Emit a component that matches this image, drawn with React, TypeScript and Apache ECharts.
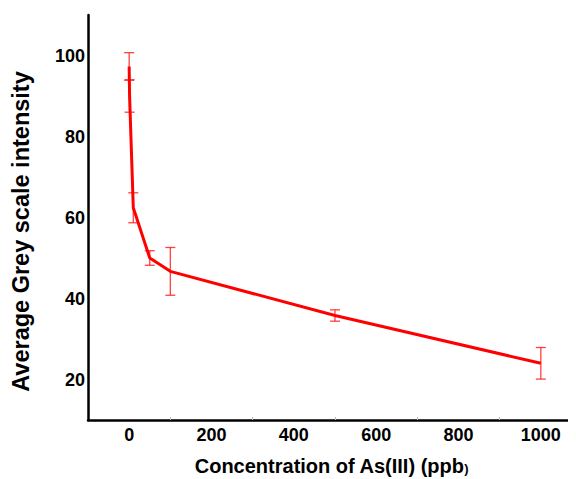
import React, { useEffect, useRef } from "react";
import * as echarts from "echarts";

const concentrations = [0, 1, 10, 50, 100, 500, 1000];
const intensities = [97.3, 90, 62.4, 50, 46.7, 35.8, 24];
const errors = [3.4, 4, 3.7, 1.8, 5.9, 1.4, 3.9];
const xTickLabels = [0, 200, 400, 600, 800, 1000];
const xMinorTicks = [100, 300, 500, 700, 900];
const yTickLabels = [20, 40, 60, 80, 100];

export default function App() {
  const ref = useRef<HTMLDivElement>(null);
  useEffect(() => {
    if (!ref.current) return;
    const chart = echarts.init(ref.current, null, { renderer: "svg" });
    const lineData = concentrations.map((x, i) => [x, intensities[i]]);
    const errData = concentrations.map((x, i) => [x, intensities[i] - errors[i], intensities[i] + errors[i]]);
    const font = "'Liberation Sans', Arial, sans-serif";
    chart.setOption({
      animation: false,
      backgroundColor: "#ffffff",
      grid: { left: 88, top: 15, right: 1, bottom: 59, outerBoundsMode: "none", containLabel: false },
      xAxis: {
        type: "value",
        min: -100,
        max: 1083,
        name: "{a|Concentration of As(III) (ppb}{b|)}",
        nameLocation: "middle",
        nameGap: 36,
        nameTextStyle: {
          rich: {
            a: { fontFamily: font, fontWeight: "bold", fontSize: 20, color: "#000" },
            b: { fontFamily: font, fontWeight: "bold", fontSize: 13, color: "#000", padding: [5, 0, 0, 0] },
          },
        },
        axisLine: { show: true, onZero: false, lineStyle: { color: "#000", width: 2.5 } },
        axisTick: { show: true, inside: true, length: 3, customValues: xMinorTicks, lineStyle: { color: "#bbb", width: 1 } },
        axisLabel: {
          customValues: xTickLabels,
          formatter: (v: number) => String(v),
          fontFamily: font,
          fontWeight: "bold",
          fontSize: 18,
          color: "#000",
          margin: 6,
        },
        splitLine: { show: false },
      },
      yAxis: {
        type: "value",
        min: 10,
        max: 110,
        name: "Average Grey scale intensity",
        nameLocation: "middle",
        nameGap: 55,
        nameRotate: 90,
        nameTextStyle: { fontFamily: font, fontWeight: "bold", fontSize: 23.5, color: "#000", padding: [0, 28, 0, 0] },
        axisLine: { show: true, onZero: false, lineStyle: { color: "#000", width: 2.5 } },
        axisTick: { show: false },
        axisLabel: {
          customValues: yTickLabels,
          formatter: (v: number) => String(v),
          fontFamily: font,
          fontWeight: "bold",
          fontSize: 18,
          color: "#000",
          margin: 3,
        },
        splitLine: { show: false },
      },
      series: [
        {
          type: "line",
          data: lineData,
          symbol: "none",
          lineStyle: { color: "#ff0000", width: 3 },
          z: 3,
        },
        {
          type: "custom",
          data: errData,
          encode: { x: 0, y: [1, 2] },
          z: 2,
          renderItem: (params: any, api: any) => {
            const x = api.value(0);
            const lo = api.coord([x, api.value(1)]);
            const hi = api.coord([x, api.value(2)]);
            const hw = 5;
            const style = { stroke: "#ff2020", lineWidth: 1.3, opacity: 0.85 };
            return {
              type: "group",
              children: [
                { type: "line", shape: { x1: lo[0], y1: lo[1], x2: hi[0], y2: hi[1] }, style },
                { type: "line", shape: { x1: lo[0] - hw, y1: lo[1], x2: lo[0] + hw, y2: lo[1] }, style },
                { type: "line", shape: { x1: hi[0] - hw, y1: hi[1], x2: hi[0] + hw, y2: hi[1] }, style },
              ],
            };
          },
        },
      ],
    });
    return () => chart.dispose();
  }, []);
  return <div ref={ref} style={{ width: 576, height: 479, marginLeft: -8, marginTop: -8 }} />;
}
